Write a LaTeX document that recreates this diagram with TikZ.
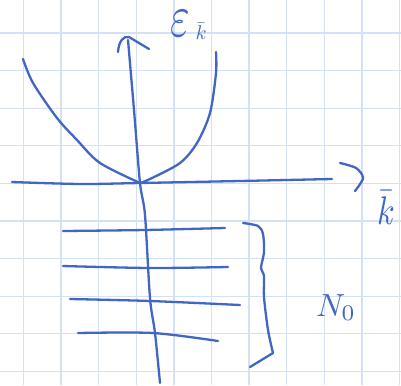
\documentclass[tikz,border=0pt]{standalone}
\usepackage{graphicx}
\definecolor{inkblue}{RGB}{66,102,196}
\definecolor{gridblue}{RGB}{212,224,243}
\begin{document}
\begin{tikzpicture}[x=1pt,y=-1pt,
  ink/.style={draw=inkblue,line width=2.3pt,line cap=round,line join=round},
  gridline/.style={draw=gridblue,line width=1.3pt},
  lbl/.style={text=inkblue,inner sep=0pt,outer sep=0pt}]
\useasboundingbox (0,0) rectangle (401,385);
\fill[white] (0,0) rectangle (401,385);
% grid paper
\foreach \i in {0,...,10} \draw[gridline] ({23.5+37.6*\i},0) -- ({23.5+37.6*\i},385);
\foreach \j in {0,...,9} \draw[gridline] (0,{33+37.6*\j}) -- (401,{33+37.6*\j});
% vertical axis
\draw[ink] plot[smooth] coordinates {(128,40) (134,110) (140,183) (145,215) (150,298) (155,333) (160,383)};
\draw[ink] (118,52) .. controls (119,41) and (123,36) .. (129,37);
\draw[ink] (129,37) -- (149,49);
% horizontal axis
\draw[ink] plot[smooth] coordinates {(12,182) (80,184) (140,183) (240,181) (332,179)};
\draw[ink] plot[smooth] coordinates {(340,163) (356,168) (363,178) (355,191)};
% dispersion
\draw[ink] plot[smooth] coordinates {(23,59) (33,83) (57,118) (77,140) (100,163) (140,183)};
\draw[ink] plot[smooth] coordinates {(140,183) (150,179) (180,163) (197,143) (210,113) (216,73) (216,52)};
% levels
\draw[ink] plot[smooth] coordinates {(63,231) (145,230) (225,228)};
\draw[ink] plot[smooth] coordinates {(63,266) (150,268) (228,267)};
\draw[ink] plot[smooth] coordinates {(70,299) (150,301) (240,305)};
\draw[ink] plot[smooth] coordinates {(78,333) (153,333) (218,341)};
% brace
\draw[ink] plot[smooth] coordinates {(243,223) (258,226) (263,234) (264,252) (261,268) (264,276) (264,297) (268,330) (273,353)} -- (250,367);
% labels
\node[lbl,anchor=base west] (eps) at (170,37) {\scalebox{4.2}[6]{$\varepsilon$}\hspace{6pt}\raisebox{-3pt}{\scalebox{2}{$\bar k$}}};
\node[lbl,anchor=base] (kax) at (386,224) {\scalebox{3.2}[4]{$\bar k$}};
\node[lbl,anchor=base west] (n0) at (316,316) {\scalebox{3.2}{$N_0$}};
\end{tikzpicture}
\end{document}
